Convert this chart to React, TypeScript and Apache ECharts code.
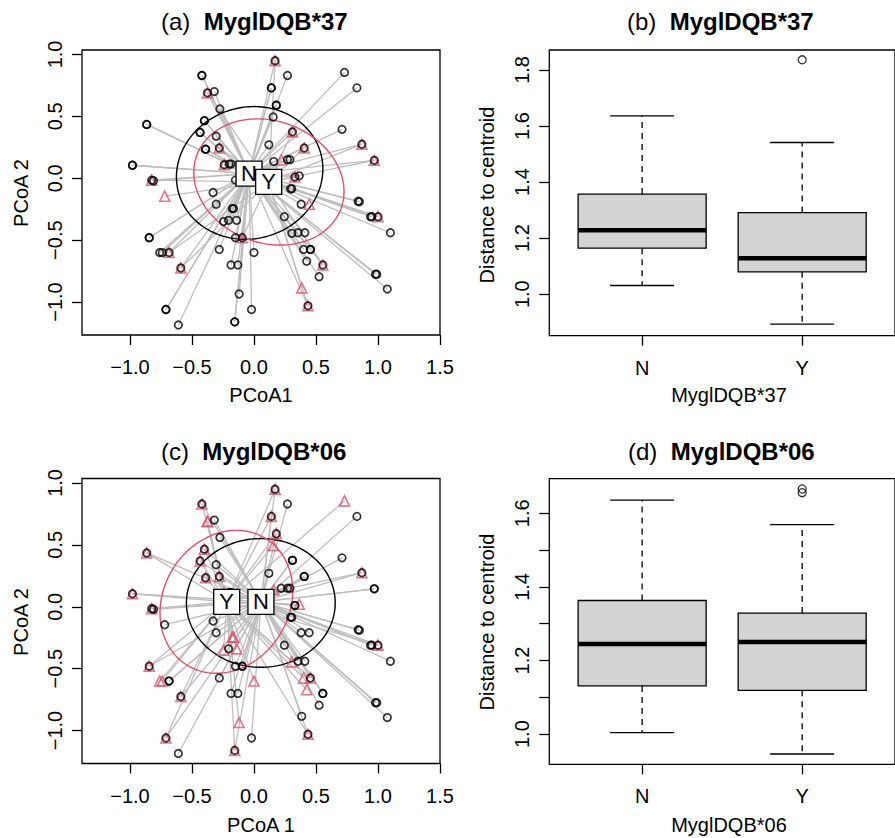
import React, { useEffect, useRef } from "react";
import * as echarts from "echarts";

const FONT = "'Liberation Sans', Arial, Helvetica, sans-serif";
const RED = "#DF536B";
const GRAY = "#BEBEBE";

// PCoA site scores (same ordination in panels a and c)
const pcoa1 = [
  0.17, 0.17, -0.42, -0.42, 0.27, 0.73, 0.83, 0.14, 0.14, -0.375,
  -0.375, -0.32, 0.18, 0.18, -0.275, 0.155, -0.4, -0.4, -0.865, -0.865,
  -0.435, -0.435, 0.31, 0.31, 0.71, -0.305, 0.12, -0.39, -0.39, -0.28,
  -0.28, 0.405, 0.405, 0.87, 0.87, 0.97, 0.97, -0.98, -0.98, -0.24,
  -0.24, -0.2, -0.185, 0.22, 0.16, 0.27, 0.29, 0.33, 0.33, 0.365,
  -0.825, -0.825, -0.81, -0.72, -0.33, -0.15, 0.295, 0.305, -0.305, 0.38,
  0.445, 0.84, 0.85, 0.94, 0.95, 1.0, 1.0, 1.1, -0.175, -0.165,
  -0.245, -0.205, -0.14, 0.245, 0.305, 0.355, 0.41, -0.15, -0.095, -0.095,
  -0.845, -0.845, -0.76, -0.74, -0.685, -0.685, -0.59, -0.59, -0.28, 0.0,
  -0.185, -0.13, 0.4, 0.455, 0.455, 0.425, 0.555, 0.555, 0.525, 0.385,
  0.435, 0.435, 0.98, 0.99, 1.075, -0.12, -0.02, -0.155, -0.155, -0.71,
  -0.71, -0.61,
];
const pcoa2 = [
  0.95, 0.95, 0.83, 0.83, 0.83, 0.855, 0.73, 0.73, 0.73, 0.69,
  0.69, 0.7, 0.59, 0.59, 0.56, 0.495, 0.465, 0.465, 0.435, 0.435,
  0.37, 0.37, 0.375, 0.375, 0.395, 0.34, 0.27, 0.235, 0.235, 0.245,
  0.245, 0.245, 0.245, 0.275, 0.275, 0.145, 0.145, 0.105, 0.105, 0.11,
  0.11, 0.115, 0.115, 0.15, 0.135, 0.15, 0.15, 0.01, 0.01, 0.02,
  -0.015, -0.015, -0.02, -0.145, -0.115, -0.015, -0.085, -0.085, -0.21, -0.21,
  -0.21, -0.185, -0.19, -0.31, -0.31, -0.31, -0.31, -0.44, -0.245, -0.245,
  -0.35, -0.34, -0.34, -0.31, -0.445, -0.44, -0.44, -0.48, -0.48, -0.48,
  -0.48, -0.48, -0.6, -0.6, -0.6, -0.6, -0.725, -0.725, -0.575, -0.6,
  -0.7, -0.7, -0.575, -0.575, -0.575, -0.67, -0.7, -0.7, -0.795, -0.885,
  -1.03, -1.03, -0.775, -0.775, -0.895, -0.935, -1.06, -1.16, -1.16, -1.06,
  -1.06, -1.185,
];
// group membership for MyglDQB*37 (panel a) and MyglDQB*06 (panel c)
const groupA = (
  "NYNNNNNNNN" + "YNNNNNNNNN" + "NNYNNNNNNN" + "YYNYNYNNNY" + "NNNYNNNYNN" +
  "NYNYNNNNNN" + "YNNNNYNNNN" + "NNNNNNNNYN" + "NNNNYNYNNN" + "NNNNNNYNNY" +
  "YNNNNNNNNN" + "NN"
).split("");
const groupC = (
  "NYNYNYNYNY" + "YNNYNYNYNY" + "NYNNNNNNYN" + "YNNYNNNNYY" + "NNNNYNNNNY" +
  "NYNNNNNNNN" + "NNNNNYNNYY" + "YNYNYNNNNN" + "NYYYNNYNNY" + "NNYYNYNNNN" +
  "YNNNNYNYNY" + "NN"
).split("");

// group centroids
const centroidsA: Record<string, number[]> = { N: [-0.04, 0.037], Y: [0.118, -0.03] };
const centroidsC: Record<string, number[]> = { N: [0.056, 0.04], Y: [-0.22, 0.04] };
// ellipses: [cx, cy, semi-axis a, semi-axis b, angle deg]
const ellipsesA = [
  { group: "N", p: [-0.035, 0.043, 0.595, 0.531, 16] },
  { group: "Y", p: [0.12, -0.03, 0.62, 0.492, -20.6] },
];
const ellipsesC = [
  { group: "N", p: [0.055, 0.031, 0.6, 0.52, 0] },
  { group: "Y", p: [-0.223, 0.04, 0.602, 0.507, 58.3] },
];

const pcoaXTicks = [-1, -0.5, 0, 0.5, 1, 1.5];
const pcoaYTicks = [-1, -0.5, 0, 0.5, 1];
const pcoaXRange = [-1.387, 1.5];
const pcoaYRange = [-1.266, 1.036];

// boxplots: [lower whisker, Q1, median, Q3, upper whisker]
const boxCategories = ["N", "Y"];
const stats37 = [
  [1.031, 1.164, 1.228, 1.357, 1.636],
  [0.893, 1.08, 1.128, 1.291, 1.541],
];
const outliers37 = [[2, 1.836]];
const stats06 = [
  [1.004, 1.131, 1.245, 1.363, 1.636],
  [0.946, 1.119, 1.25, 1.329, 1.569],
];
const outliers06 = [
  [2, 1.666],
  [2, 1.656],
];
const box37YTicks = [1.0, 1.2, 1.4, 1.6, 1.8];
const box37YRange = [0.852, 1.871];
const box06YTicks = [1.0, 1.1, 1.2, 1.3, 1.4, 1.5, 1.6];
const box06YLabels = [1.0, 1.2, 1.4, 1.6];
const box06YRange = [0.918, 1.694];
const boxXRange = [0.42, 2.58];

function fmt(v: number) {
  const s = Math.abs(v).toFixed(1);
  return v < -1e-9 ? "\u2212" + s : s;
}

const tickStyle = { color: "#000", width: 1.3 };
const labelBase = { fontSize: 20, color: "#000", fontFamily: FONT };

function xAxis(gridIndex: number, range: number[], ticks: number[], formatter: any) {
  return {
    type: "value",
    gridIndex,
    min: range[0],
    max: range[1],
    splitLine: { show: false },
    axisLine: { show: false, onZero: false },
    axisTick: { show: true, length: 10, customValues: ticks, lineStyle: tickStyle },
    axisLabel: { ...labelBase, customValues: ticks, formatter, margin: 22 },
  };
}
function yAxis(gridIndex: number, range: number[], ticks: number[], labels: number[]) {
  return {
    type: "value",
    gridIndex,
    min: range[0],
    max: range[1],
    splitLine: { show: false },
    axisLine: { show: false, onZero: false },
    axisTick: { show: true, length: 10, customValues: ticks, lineStyle: tickStyle },
    axisLabel: { ...labelBase, customValues: labels, formatter: fmt, rotate: 90, margin: 17 },
  };
}

function scatterPanelSeries(axisIdx: number, groups: string[], cents: Record<string, number[]>, ells: any[], labelOrder: string[]) {
  const series: any[] = [];
  const segs = pcoa1.map((x, i) => [x, pcoa2[i], cents[groups[i]][0], cents[groups[i]][1]]);
  series.push({
    type: "custom",
    xAxisIndex: axisIdx,
    yAxisIndex: axisIdx,
    silent: true,
    z: 1,
    data: segs,
    encode: { x: 0, y: 1 },
    renderItem: (_p: any, api: any) => {
      const a = api.coord([api.value(0), api.value(1)]);
      const b = api.coord([api.value(2), api.value(3)]);
      return {
        type: "line",
        shape: { x1: a[0], y1: a[1], x2: b[0], y2: b[1] },
        style: { stroke: GRAY, lineWidth: 1.3 },
      };
    },
  });
  ells.forEach((e) => {
    series.push({
      type: "custom",
      xAxisIndex: axisIdx,
      yAxisIndex: axisIdx,
      silent: true,
      z: 2,
      data: [e.p],
      encode: { x: 0, y: 1 },
      renderItem: (_p: any, api: any) => {
        const cx = api.value(0), cy = api.value(1), a = api.value(2), b = api.value(3);
        const th = (api.value(4) * Math.PI) / 180;
        const pts: number[][] = [];
        for (let k = 0; k <= 180; k++) {
          const t = (k / 180) * 2 * Math.PI;
          const x = cx + a * Math.cos(t) * Math.cos(th) - b * Math.sin(t) * Math.sin(th);
          const y = cy + a * Math.cos(t) * Math.sin(th) + b * Math.sin(t) * Math.cos(th);
          pts.push(api.coord([x, y]));
        }
        return {
          type: "polyline",
          shape: { points: pts },
          style: { stroke: e.group === "N" ? "#000" : RED, fill: "none", lineWidth: 1.4 },
        };
      },
    });
  });
  const nPts = pcoa1.map((x, i) => [x, pcoa2[i]]).filter((_, i) => groups[i] === "N");
  const yPts = pcoa1.map((x, i) => [x, pcoa2[i]]).filter((_, i) => groups[i] === "Y");
  series.push({
    type: "scatter",
    xAxisIndex: axisIdx,
    yAxisIndex: axisIdx,
    silent: true,
    z: 3,
    symbol: "triangle",
    symbolSize: 10,
    itemStyle: { color: "rgba(0,0,0,0)", borderColor: RED, borderWidth: 1.6 },
    data: yPts,
  });
  series.push({
    type: "scatter",
    xAxisIndex: axisIdx,
    yAxisIndex: axisIdx,
    silent: true,
    z: 3,
    symbol: "circle",
    symbolSize: 7.5,
    itemStyle: { color: "rgba(0,0,0,0)", borderColor: "#000", borderWidth: 1.7 },
    data: nPts,
  });
  labelOrder.forEach((g, k) => {
    series.push({
      type: "scatter",
      xAxisIndex: axisIdx,
      yAxisIndex: axisIdx,
      silent: true,
      z: 4 + k,
      symbol: "rect",
      symbolSize: [26, 25],
      itemStyle: { color: "#fff", borderColor: "#000", borderWidth: 1.3, opacity: 1 },
      label: {
        show: true,
        position: "inside",
        formatter: () => g,
        fontSize: 22,
        color: "#000",
        fontFamily: FONT,
      },
      data: [[cents[g][0], cents[g][1]]],
    });
  });
  return series;
}

function boxSeries(axisIdx: number, stats: number[][], outs: number[][]) {
  return [
    {
      type: "custom",
      xAxisIndex: axisIdx,
      yAxisIndex: axisIdx,
      silent: true,
      z: 2,
      data: stats.map((s, i) => [i + 1, ...s]),
      encode: { x: 0, y: 3 },
      renderItem: (_p: any, api: any) => {
        const x = api.value(0);
        const lo = api.value(1), q1 = api.value(2), med = api.value(3), q3 = api.value(4), hi = api.value(5);
        const hw = 0.4, sw = 0.2;
        const c = (xx: number, yy: number) => api.coord([xx, yy]);
        const line = (p: number[], q: number[], style: any) => ({
          type: "line",
          shape: { x1: p[0], y1: p[1], x2: q[0], y2: q[1] },
          style,
        });
        const solid = { stroke: "#000", lineWidth: 1.3 };
        const dashed = { stroke: "#000", lineWidth: 1.3, lineDash: [6, 5] };
        const tl = c(x - hw, q3), br = c(x + hw, q1);
        return {
          type: "group",
          children: [
            line(c(x, q3), c(x, hi), dashed),
            line(c(x, q1), c(x, lo), dashed),
            line(c(x - sw, hi), c(x + sw, hi), solid),
            line(c(x - sw, lo), c(x + sw, lo), solid),
            {
              type: "rect",
              shape: { x: tl[0], y: tl[1], width: br[0] - tl[0], height: br[1] - tl[1] },
              style: { fill: "#D3D3D3", stroke: "#000", lineWidth: 1.3 },
            },
            line(c(x - hw, med), c(x + hw, med), { stroke: "#000", lineWidth: 4.5 }),
          ],
        };
      },
    },
    {
      type: "scatter",
      xAxisIndex: axisIdx,
      yAxisIndex: axisIdx,
      silent: true,
      z: 3,
      symbol: "circle",
      symbolSize: 8,
      itemStyle: { color: "rgba(0,0,0,0)", borderColor: "#000", borderWidth: 1.3 },
      data: outs,
    },
  ];
}

function txt(x: number, y: number, text: string, rotate = false) {
  return {
    type: "text",
    x,
    y,
    rotation: rotate ? Math.PI / 2 : 0,
    silent: true,
    style: {
      text,
      fontSize: 20,
      fontFamily: FONT,
      fill: "#000",
      align: "center",
      verticalAlign: "middle",
    },
  };
}
function title(x: number, y: number, tag: string, name: string) {
  return {
    type: "text",
    x,
    y,
    silent: true,
    style: {
      text: `{n|${tag}  }{b|${name}}`,
      align: "left",
      verticalAlign: "middle",
      rich: {
        n: { fontSize: 24, fontFamily: FONT, fill: "#000", color: "#000" },
        b: { fontSize: 24, fontFamily: FONT, fontWeight: "bold", fill: "#000", color: "#000" },
      },
    },
  };
}

function buildOption() {
  const gridBase = { show: true, borderColor: "#000", borderWidth: 1.3, backgroundColor: "rgba(0,0,0,0)", containLabel: false };
  const catFmt = (v: number) => boxCategories[Math.round(v) - 1] ?? "";
  return {
    animation: false,
    backgroundColor: "#fff",
    grid: [
      { ...gridBase, left: 82, top: 50, width: 358, height: 285 },
      { ...gridBase, left: 549.3, top: 50, width: 358.6, height: 285.7 },
      { ...gridBase, left: 82, top: 478.5, width: 358, height: 285 },
      { ...gridBase, left: 549.3, top: 478.7, width: 358.6, height: 285.6 },
    ],
    xAxis: [
      xAxis(0, pcoaXRange, pcoaXTicks, fmt),
      xAxis(1, boxXRange, [1, 2], catFmt),
      xAxis(2, pcoaXRange, pcoaXTicks, fmt),
      xAxis(3, boxXRange, [1, 2], catFmt),
    ],
    yAxis: [
      yAxis(0, pcoaYRange, pcoaYTicks, pcoaYTicks),
      yAxis(1, box37YRange, box37YTicks, box37YTicks),
      yAxis(2, pcoaYRange, pcoaYTicks, pcoaYTicks),
      yAxis(3, box06YRange, box06YTicks, box06YLabels),
    ],
    series: [
      ...scatterPanelSeries(0, groupA, centroidsA, ellipsesA, ["N", "Y"]),
      ...boxSeries(1, stats37, outliers37),
      ...scatterPanelSeries(2, groupC, centroidsC, ellipsesC, ["Y", "N"]),
      ...boxSeries(3, stats06, outliers06),
    ],
    graphic: [
      title(161, 21.5, "(a)", "MyglDQB*37"),
      title(627, 21.5, "(b)", "MyglDQB*37"),
      title(161, 451, "(c)", "MyglDQB*06"),
      title(628, 451, "(d)", "MyglDQB*06"),
      txt(261, 395, "PCoA1"),
      txt(21, 193, "PCoA 2", true),
      txt(729, 395, "MyglDQB*37"),
      txt(487, 195, "Distance to centroid", true),
      txt(261, 825, "PCoA 1"),
      txt(21, 622, "PCoA 2", true),
      txt(729, 825, "MyglDQB*06"),
      txt(487, 622, "Distance to centroid", true),
    ],
  };
}

export default function App() {
  const ref = useRef<HTMLDivElement>(null);
  useEffect(() => {
    if (!ref.current) return;
    const chart = echarts.init(ref.current, null, { renderer: "svg" });
    chart.setOption(buildOption() as any);
    return () => chart.dispose();
  }, []);
  return (
    <div
      ref={ref}
      style={{ position: "absolute", left: 0, top: 0, width: 895, height: 838, background: "#fff" }}
    />
  );
}
